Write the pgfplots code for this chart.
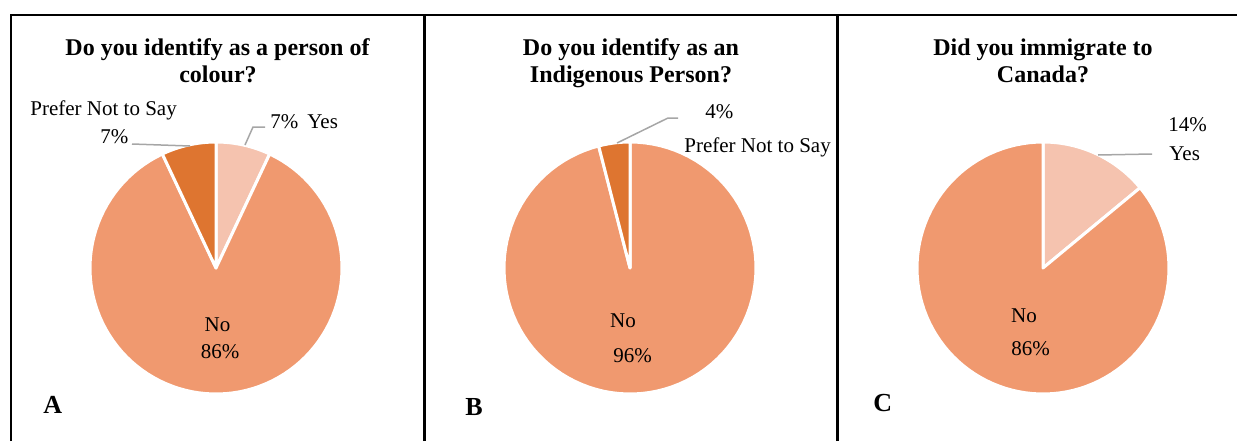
\documentclass[border=0pt]{standalone}
\usepackage{pgfplots}
\pgfplotsset{compat=1.18}
\usepackage{fontspec}
\setmainfont{Liberation Serif}
\definecolor{cno}{HTML}{F0996F}
\definecolor{cyes}{HTML}{F5C3AF}
\definecolor{cpref}{HTML}{DE7530}
\definecolor{lead}{HTML}{A6A6A6}
% percentages
\def\Ayes{7}\def\Ano{86}\def\Apref{7}
\def\Bno{96}\def\Bpref{4}
\def\Cyes{14}\def\Cno{86}
\newcommand\slice[3]{\addplot[fill=#1, draw=white, line width=1.5pt, line join=round, mark=none, domain={#2}:{#3}, samples=100] ({cos(x)},{sin(x)}) -- (axis cs:0,0) -- cycle;}
\pgfplotsset{pie/.style={scale only axis, width=126pt, height=126pt, xmin=-1, xmax=1, ymin=-1, ymax=1, hide axis, clip=false, anchor=center}}
\newcommand\lab{\fontsize{10.5}{12.6}\selectfont}
\newcommand\ttl{\fontsize{12}{14}\selectfont\bfseries}
\begin{document}
\begin{tikzpicture}
\useasboundingbox (0,0) rectangle (618.5pt,220.5pt);
% borders
\draw[line width=1pt] (5.5pt,0) -- (5.5pt,213.25pt) -- (618.5pt,213.25pt);
\draw[line width=1.5pt] (212pt,0) -- (212pt,213.25pt);
\draw[line width=1.5pt] (418.5pt,0) -- (418.5pt,213.25pt);
% pie A
\begin{axis}[pie, at={(108pt,86.5pt)}]
\slice{cyes}{90-\Ayes*3.6}{90}
\slice{cno}{90-(\Ayes+\Ano)*3.6}{90-\Ayes*3.6}
\slice{cpref}{-270}{90-(\Ayes+\Ano)*3.6}
\end{axis}
% pie B
\begin{axis}[pie, at={(315pt,86.5pt)}]
\slice{cno}{90-\Bno*3.6}{90}
\slice{cpref}{-270}{90-\Bno*3.6}
\end{axis}
% pie C
\begin{axis}[pie, at={(521.5pt,86.5pt)}]
\slice{cyes}{90-\Cyes*3.6}{90}
\slice{cno}{-270}{90-\Cyes*3.6}
\end{axis}
% titles
\node[anchor=base, inner sep=0] at (108.75pt,193pt) {\ttl Do you identify as a person of};
\node[anchor=base, inner sep=0] at (109pt,179.5pt) {\ttl colour?};
\node[anchor=base, inner sep=0] at (315.5pt,193pt) {\ttl Do you identify as an};
\node[anchor=base, inner sep=0] at (315.5pt,179.5pt) {\ttl Indigenous Person?};
\node[anchor=base, inner sep=0] at (521.5pt,193pt) {\ttl Did you immigrate to};
\node[anchor=base, inner sep=0] at (521.5pt,179.5pt) {\ttl Canada?};
% leaders
\draw[lead, line width=0.75pt] (66pt,148.5pt) -- (95pt,147.5pt);
\draw[lead, line width=0.75pt] (122.5pt,148pt) -- (126.5pt,157pt) -- (132.5pt,157pt);
\draw[lead, line width=0.75pt] (308.5pt,149pt) -- (334pt,161.5pt) -- (339pt,161.5pt);
\draw[lead, line width=0.75pt] (549pt,143pt) -- (576pt,143.5pt);
% data labels
\node[anchor=base west, inner sep=0] at (15pt,163pt) {\lab Prefer Not to Say};
\node[anchor=base west, inner sep=0] at (50pt,149pt) {\lab 7\%};
\node[anchor=base west, inner sep=0] at (135pt,156.5pt) {\lab 7\%};
\node[anchor=base west, inner sep=0] at (153.5pt,156.5pt) {\lab Yes};
\node[anchor=base, inner sep=0] at (108.75pt,55pt) {\lab No};
\node[anchor=base, inner sep=0] at (110pt,41.5pt) {\lab 86\%};
\node[anchor=base west, inner sep=0] at (352.5pt,161.5pt) {\lab 4\%};
\node[anchor=base west, inner sep=0] at (342pt,144.5pt) {\lab Prefer Not to Say};
\node[anchor=base, inner sep=0] at (311.5pt,57pt) {\lab No};
\node[anchor=base, inner sep=0] at (316.25pt,39.5pt) {\lab 96\%};
\node[anchor=base west, inner sep=0] at (584pt,155pt) {\lab 14\%};
\node[anchor=base west, inner sep=0] at (584.5pt,140.5pt) {\lab Yes};
\node[anchor=base, inner sep=0] at (512pt,59.5pt) {\lab No};
\node[anchor=base, inner sep=0] at (515.25pt,43pt) {\lab 86\%};
% panel letters
\node[anchor=base west, inner sep=0] at (21.5pt,14pt) {\fontsize{13}{15}\selectfont\bfseries A};
\node[anchor=base west, inner sep=0] at (232.5pt,13pt) {\fontsize{13}{15}\selectfont\bfseries B};
\node[anchor=base west, inner sep=0] at (436.5pt,15pt) {\fontsize{13}{15}\selectfont\bfseries C};
\end{tikzpicture}
\end{document}
